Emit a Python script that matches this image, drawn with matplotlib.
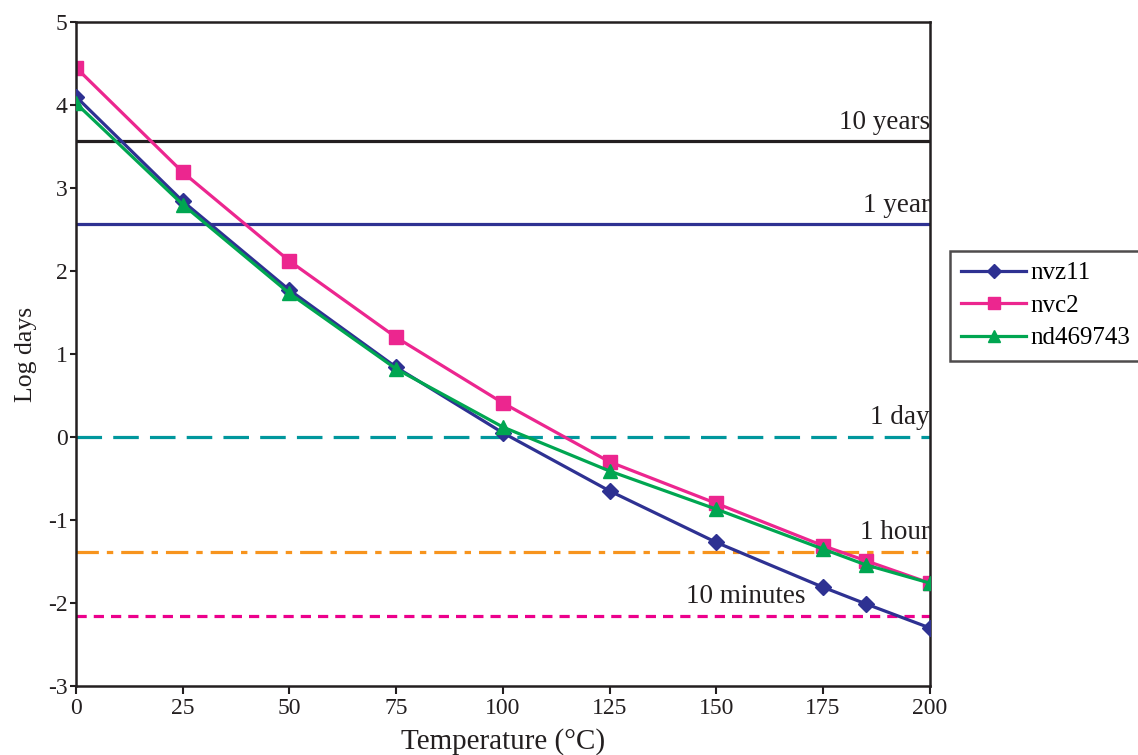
import numpy as np
import matplotlib.pyplot as plt

plt.rcParams['font.family'] = ['Liberation Serif', 'DejaVu Serif']
plt.rcParams['axes.unicode_minus'] = False

# temperatures (deg C) and log10(days) for each sample
temps = [0, 25, 50, 75, 100, 125, 150, 175, 185, 200]
nvz11 = [4.10, 2.84, 1.77, 0.84, 0.05, -0.65, -1.27, -1.81, -2.01, -2.30]
nvc2 = [4.45, 3.19, 2.12, 1.20, 0.41, -0.30, -0.80, -1.31, -1.49, -1.76]
nd469743 = [4.02, 2.80, 1.73, 0.82, 0.12, -0.41, -0.87, -1.35, -1.54, -1.76]

# reference durations, in days
ref_labels = ['10 years', '1 year', '1 day', '1 hour', '10 minutes']
ref_days = [3652.5, 365.25, 1.0, 1 / 24, 10 / 1440]

ink = '#231f20'

fig = plt.figure(figsize=(11.38, 7.55), dpi=100)
ax = fig.add_axes([0.0668, 0.0914, 0.7502, 0.8795])

ref_styles = [
    dict(color=ink, linestyle='-'),
    dict(color='#2e3192', linestyle='-'),
    dict(color='#00979d', linestyle=(0, (8, 3.5))),
    dict(color='#f7941d', linestyle=(0, (7, 2.5, 2, 2.5))),
    dict(color='#ec008c', linestyle=(0, (3.2, 2.2))),
]
label_x = [200, 200, 200, 200, 171]
for lab, d, st, lx in zip(ref_labels, ref_days, ref_styles, label_x):
    y = np.log10(d)
    ax.axhline(y, linewidth=2.3, zorder=1, **st)
    ax.text(lx, y + 0.08, lab, ha='right', va='bottom', fontsize=19.5, color=ink)

ax.plot(temps, nvz11, color='#2e3192', marker='D', markersize=8.5, linewidth=2.3,
        label='nvz11', zorder=3)
ax.plot(temps, nvc2, color='#ec268f', marker='s', markersize=10, linewidth=2.3,
        label='nvc2', zorder=2)
ax.plot(temps, nd469743, color='#00a651', marker='^', markersize=10, linewidth=2.3,
        label='nd469743', zorder=4)

ax.set_xlim(0, 200)
ax.set_ylim(-3, 5)
ax.set_xticks(range(0, 201, 25))
ax.set_yticks(range(-3, 6))
ax.tick_params(axis='x', direction='out', length=6, width=1.5, labelsize=17,
               pad=3, colors=ink)
ax.tick_params(axis='y', direction='out', length=4, width=1.5, labelsize=17,
               pad=2, colors=ink)
for sp in ax.spines.values():
    sp.set_linewidth(1.8)
    sp.set_color(ink)
ax.set_xlabel('Temperature (°C)', fontsize=21, color=ink, labelpad=6)
ax.set_ylabel('Log days', fontsize=18.5, color=ink, labelpad=8)

leg = fig.legend(loc='upper left', bbox_to_anchor=(0.835, 0.668), fontsize=18,
                 frameon=True, fancybox=False, edgecolor=ink,
                 handlelength=2.6, borderpad=0.45, labelspacing=0.4,
                 handletextpad=0.15, borderaxespad=0, markerscale=0.85)
leg.get_frame().set_linewidth(1.8)

fig.savefig('out.png', dpi=100)
